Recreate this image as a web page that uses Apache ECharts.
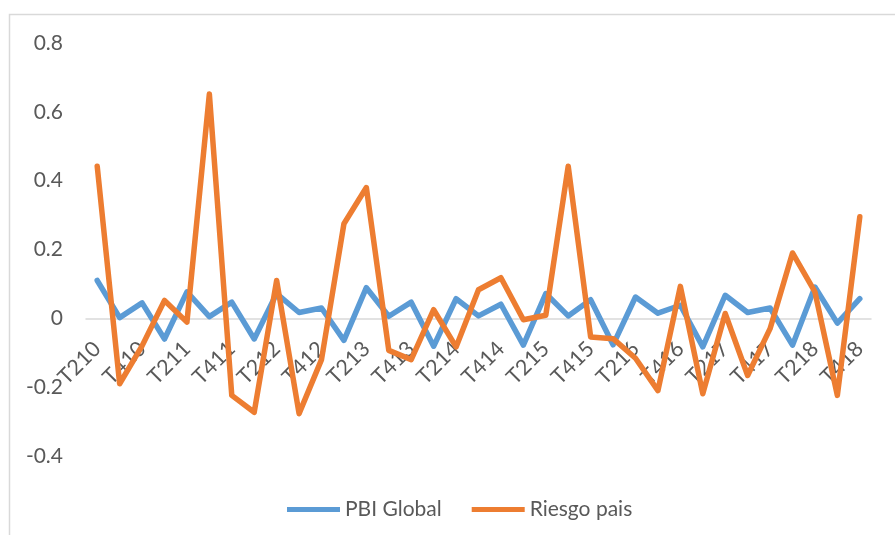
<!DOCTYPE html>
<html>
<head>
<meta charset="utf-8">
<script src="https://cdn.jsdelivr.net/npm/echarts@6/dist/echarts.min.js"></script>
<style>
html,body{margin:0;padding:0;background:#fff;}
#chart{width:895px;height:535px;}
</style>
</head>
<body>
<div id="chart"></div>
<script>
var categories = ['T210','T310','T410','T111','T211','T311','T411','T112','T212','T312','T412','T113','T213','T313','T413','T114','T214','T314','T414','T115','T215','T315','T415','T116','T216','T316','T416','T117','T217','T317','T417','T118','T218','T318','T418'];
var pbiGlobal = [0.11, 0.002, 0.045, -0.06, 0.077, 0.005, 0.047, -0.06, 0.072, 0.017, 0.03, -0.064, 0.089, 0.006, 0.047, -0.081, 0.057, 0.007, 0.041, -0.078, 0.072, 0.007, 0.054, -0.077, 0.062, 0.015, 0.038, -0.083, 0.067, 0.017, 0.03, -0.078, 0.091, -0.014, 0.057];
var riesgoPais = [0.442, -0.19, -0.08, 0.052, -0.011, 0.652, -0.224, -0.273, 0.11, -0.277, -0.12, 0.275, 0.38, -0.093, -0.12, 0.025, -0.083, 0.083, 0.118, -0.004, 0.009, 0.442, -0.054, -0.059, -0.116, -0.21, 0.093, -0.219, 0.014, -0.166, -0.03, 0.19, 0.077, -0.224, 0.295];
var seriesNames = ['PBI Global', 'Riesgo pais'];
var yMin = -0.4, yMax = 0.8, yStep = 0.2;

var FONT = 'Lato';
var TXT = '#595959';
var GRID_TOP = 43, GRID_BOTTOM = 79, H = 535;
var plotH = H - GRID_TOP - GRID_BOTTOM;
// shift the category axis up so it sits on the zero value
var zeroOffset = -plotH * (0 - yMin) / (yMax - yMin);

var chart = echarts.init(document.getElementById('chart'), null, {renderer: 'canvas'});
chart.setOption({
  animation: false,
  backgroundColor: '#ffffff',
  graphic: [{
    type: 'rect',
    shape: {x: 9.5, y: 14.5, width: 900, height: 540},
    style: {fill: 'none', stroke: '#d9d9d9', lineWidth: 1.5},
    silent: true
  }],
  grid: {left: 86, right: 24, top: GRID_TOP, bottom: GRID_BOTTOM},
  legend: {
    left: 282, top: 494,
    icon: 'rect',
    itemWidth: 53, itemHeight: 5,
    itemGap: 30,
    textStyle: {fontFamily: FONT, fontSize: 21, color: TXT},
    data: seriesNames
  },
  xAxis: {
    type: 'category',
    data: categories,
    boundaryGap: true,
    offset: zeroOffset,
    axisLine: {show: true, onZero: false, lineStyle: {color: '#d9d9d9', width: 1.5}},
    axisTick: {show: false},
    axisLabel: {interval: 1, rotate: 45, margin: 27, fontFamily: FONT, fontSize: 21.5, color: TXT},
    splitLine: {show: false}
  },
  yAxis: {
    type: 'value',
    min: yMin, max: yMax, interval: yStep,
    axisLine: {show: false},
    axisTick: {show: false},
    splitLine: {show: false},
    axisLabel: {margin: 23, fontFamily: FONT, fontSize: 21, color: TXT,
      formatter: function(v){ return String(Math.round(v*10)/10); }}
  },
  series: [{
    name: seriesNames[0], type: 'line', data: pbiGlobal,
    symbol: 'none', color: '#5B9BD5',
    lineStyle: {width: 5.5, color: '#5B9BD5', cap: 'round', join: 'round'}
  }, {
    name: seriesNames[1], type: 'line', data: riesgoPais,
    symbol: 'none', color: '#ED7D31',
    lineStyle: {width: 5.5, color: '#ED7D31', cap: 'round', join: 'round'}
  }]
});
</script>
</body>
</html>
